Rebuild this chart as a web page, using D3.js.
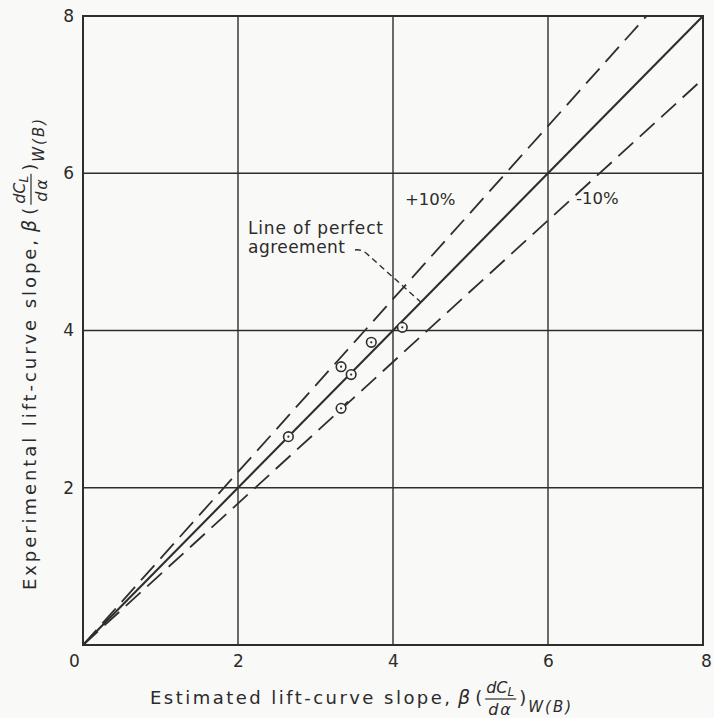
<!DOCTYPE html>
<html>
<head>
<meta charset="utf-8">
<script src="https://cdn.jsdelivr.net/npm/d3@7/dist/d3.min.js"></script>
<style>
  html, body { margin: 0; padding: 0; background: #f9f9f7; }
  svg { display: block; }
  text { font-family: "DejaVu Sans", "Liberation Sans", sans-serif; fill: #2b2b2b; }
</style>
</head>
<body>
<svg id="chart" width="714" height="718"></svg>
<script>
// Axis ticks
const xTicks = [0, 2, 4, 6, 8];
const yTicks = [2, 4, 6, 8];

// Measured points: estimated vs experimental lift-curve slope
const estimated    = [4.12, 3.72, 3.33, 3.46, 3.33, 2.65];
const experimental = [4.04, 3.85, 3.54, 3.44, 3.01, 2.65];
const flagged      = [false, false, false, false, true, false];

// Reference lines: perfect agreement and +/- 10 % bands
const bandFactors = [1.0, 1.1, 0.9];
const bandLabels  = ["", "+10%", "-10%"];

const svg = d3.select("#chart");
const ink = "#2e2e2e";

const x = d3.scaleLinear().domain([0, 8]).range([83, 703]);
const y = d3.scaleLinear().domain([0, 8]).range([645, 16]);

// Grid
const grid = svg.append("g");
grid.selectAll("line.gx").data(xTicks.slice(1, -1)).join("line")
  .attr("x1", d => x(d)).attr("x2", d => x(d))
  .attr("y1", y(0)).attr("y2", y(8))
  .attr("stroke", ink).attr("stroke-width", 1.4);
grid.selectAll("line.gy").data(yTicks.slice(0, -1)).join("line")
  .attr("y1", d => y(d)).attr("y2", d => y(d))
  .attr("x1", x(0)).attr("x2", x(8))
  .attr("stroke", ink).attr("stroke-width", 1.4);

// Frame
svg.append("rect")
  .attr("x", x(0)).attr("y", y(8))
  .attr("width", x(8) - x(0)).attr("height", y(0) - y(8))
  .attr("fill", "none").attr("stroke", ink).attr("stroke-width", 2);

// Tick labels via d3 axes (domain and tick lines hidden)
const xAxis = svg.append("g").attr("transform", `translate(0,${y(0)})`)
  .call(d3.axisBottom(x).tickValues(xTicks).tickSize(0).tickPadding(10).tickFormat(d3.format("d")));
const yAxis = svg.append("g").attr("transform", `translate(${x(0)},0)`)
  .call(d3.axisLeft(y).tickValues(yTicks).tickSize(0).tickPadding(9).tickFormat(d3.format("d")));
[xAxis, yAxis].forEach(a => {
  a.select(".domain").remove();
  a.selectAll("text").style("font-size", "17px").attr("fill", "#2b2b2b");
});
xAxis.selectAll(".tick").filter(d => d === 0).select("text").attr("dx", -9);
xAxis.selectAll(".tick").filter(d => d === 8).select("text").attr("dx", 3);

// Diagonal lines
const line = d3.line().x(d => x(d[0])).y(d => y(d[1]));
bandFactors.forEach((f, i) => {
  const xEnd = Math.min(8, 8 / f);
  svg.append("path")
    .attr("d", line([[0, 0], [xEnd, f * xEnd]]))
    .attr("fill", "none")
    .attr("stroke", ink)
    .attr("stroke-width", i === 0 ? 2.1 : 1.8)
    .attr("stroke-dasharray", i === 0 ? null : "20,9");
});

// Band labels
svg.append("text").attr("x", 405).attr("y", 205).style("font-size", "16.5px").text(bandLabels[1]);
svg.append("text").attr("x", 576).attr("y", 204).style("font-size", "16.5px").text(bandLabels[2]);

// Annotation for the line of perfect agreement
svg.append("text").attr("x", 248).attr("y", 234).style("font-size", "17px")
  .attr("textLength", 135).attr("lengthAdjust", "spacing").text("Line of perfect");
svg.append("text").attr("x", 248).attr("y", 253).style("font-size", "17px")
  .attr("textLength", 97).attr("lengthAdjust", "spacing").text("agreement");
svg.append("path")
  .attr("d", `M355,250 Q361,249 366,253 L${x(4.36)},${y(4.36)}`)
  .attr("fill", "none").attr("stroke", ink).attr("stroke-width", 1.4)
  .attr("stroke-dasharray", "6,4");

// Data points: open circles with centre dot
const pts = svg.append("g");
estimated.forEach((ex, i) => {
  const cx = x(ex), cy = y(experimental[i]);
  pts.append("circle").attr("cx", cx).attr("cy", cy).attr("r", 4.8)
    .attr("fill", "#f9f9f7").attr("stroke", ink).attr("stroke-width", 1.6);
  pts.append("circle").attr("cx", cx).attr("cy", cy).attr("r", 1.1).attr("fill", ink);
  if (flagged[i]) {
    pts.append("line").attr("x1", cx + 3.4).attr("y1", cy - 3.4)
      .attr("x2", cx + 6.8).attr("y2", cy - 6.8)
      .attr("stroke", ink).attr("stroke-width", 1.6);
  }
});

// Axis title with fraction: prefix β ( dC_L / dα ) W(B)
function mathLabel(g, prefix, prefixLen) {
  let cur = 0;
  const put = (txt, opts) => {
    const t = g.append("text").attr("x", cur).attr("y", opts.y || 0)
      .style("font-size", (opts.size || 18) + "px")
      .style("font-style", opts.italic ? "italic" : "normal")
      .style("letter-spacing", opts.ls ? opts.ls + "px" : null)
      .text(txt);
    if (opts.len) t.attr("textLength", opts.len).attr("lengthAdjust", "spacing");
    return opts.len || t.node().getComputedTextLength();
  };
  cur += put(prefix, { len: prefixLen }) + 8;
  cur += put("β", { italic: true, size: 19 }) + 5;
  cur += put("(", {}) + 4;
  // fraction
  const fx = cur;
  const num = g.append("text").attr("x", fx).attr("y", -11)
    .style("font-size", "16px").style("font-style", "italic");
  num.append("tspan").text("dC");
  num.append("tspan").attr("dy", 3).style("font-size", "12px").text("L");
  const nw = num.node().getComputedTextLength();
  const den = g.append("text").attr("x", fx + 2).attr("y", 11)
    .style("font-size", "16px").style("font-style", "italic").style("letter-spacing", "2px").text("dα");
  const dw = den.node().getComputedTextLength() + 2;
  const fw = Math.max(nw, dw) + 2;
  g.append("line").attr("x1", fx - 1).attr("x2", fx + fw).attr("y1", -5).attr("y2", -5)
    .attr("stroke", ink).attr("stroke-width", 1.2);
  cur += fw + 3;
  cur += put(")", {}) + 2;
  cur += put("W(B)", { italic: true, size: 15, y: 8, ls: 2 });
  return cur;
}

const xl = svg.append("g");
mathLabel(xl, "Estimated lift-curve slope,", 300);
xl.attr("transform", "translate(150,704)");

const yl = svg.append("g");
mathLabel(yl, "Experimental lift-curve slope,", 350);
yl.attr("transform", "translate(36,590) rotate(-90)");
</script>
</body>
</html>
